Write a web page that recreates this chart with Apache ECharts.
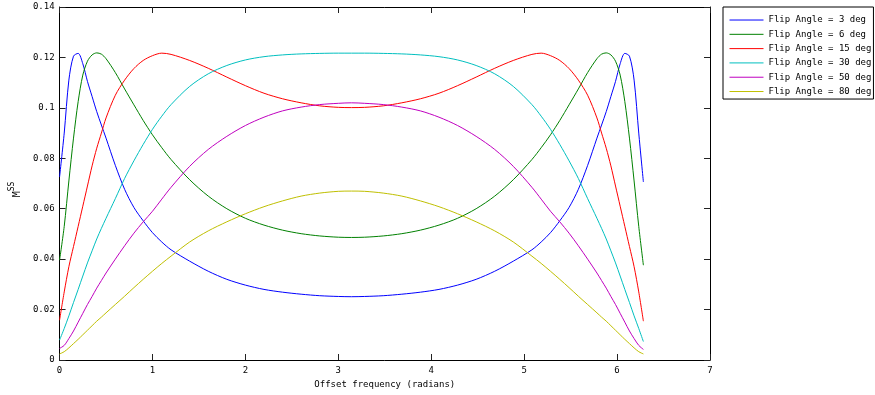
<!DOCTYPE html>
<html>
<head>
<meta charset="utf-8">
<script src="https://cdn.jsdelivr.net/npm/echarts@6/dist/echarts.min.js"></script>
<style>
  html, body { margin: 0; padding: 0; background: #ffffff; }
  #chart { width: 875px; height: 395px; }
</style>
</head>
<body>
<div id="chart"></div>
<script>
// Off-resonance phase per TR (radians)
const offsetRad = [
  0, 0.05, 0.1, 0.15, 0.2, 0.25, 0.3, 0.35, 0.4, 0.45, 0.5, 0.6, 0.7, 0.8, 0.9, 1.0, 1.1,
  1.2, 1.4, 1.6, 1.8, 2.0, 2.2, 2.4, 2.6, 2.8, 3.0, 3.1416,
  3.2832, 3.4832, 3.6832, 3.8832, 4.0832, 4.2832, 4.4832, 4.6832, 4.8832, 5.0832,
  5.1832, 5.2832, 5.3832, 5.4832, 5.5832, 5.6832, 5.7832, 5.8332, 5.8832, 5.9332, 5.9832,
  6.0332, 6.0832, 6.1332, 6.1832, 6.2332, 6.2832
];

const flipAngles = [3, 6, 15, 30, 50, 80];

// Steady-state magnetization for each flip angle
const mss3 = [
  0.0726, 0.0900, 0.1110, 0.1205, 0.1216, 0.1175, 0.1105, 0.1045, 0.0985, 0.0932, 0.0880, 0.0772, 0.0677, 0.0605, 0.0552, 0.0505, 0.0468,
  0.0437, 0.0392, 0.0352, 0.0320, 0.0297, 0.0280, 0.0269, 0.0261, 0.0255, 0.0252, 0.0251,
  0.0252, 0.0255, 0.0261, 0.0269, 0.0280, 0.0297, 0.0320, 0.0352, 0.0392, 0.0437,
  0.0468, 0.0505, 0.0552, 0.0605, 0.0677, 0.0772, 0.0880, 0.0932, 0.0985, 0.1045, 0.1105,
  0.1175, 0.1216, 0.1205, 0.1110, 0.0900, 0.0706
];
const mss6 = [
  0.0396, 0.0530, 0.0710, 0.0880, 0.1025, 0.1130, 0.1185, 0.1210, 0.1218, 0.1213, 0.1195, 0.1140, 0.1075, 0.1012, 0.0950, 0.0893, 0.0842,
  0.0795, 0.0715, 0.0650, 0.0600, 0.0562, 0.0535, 0.0515, 0.0501, 0.0492, 0.0487, 0.0486,
  0.0487, 0.0492, 0.0501, 0.0515, 0.0535, 0.0562, 0.0600, 0.0650, 0.0715, 0.0795,
  0.0842, 0.0893, 0.0950, 0.1012, 0.1075, 0.1140, 0.1195, 0.1213, 0.1218, 0.1210, 0.1185,
  0.1130, 0.1025, 0.0880, 0.0710, 0.0530, 0.0376
];
const mss15 = [
  0.0158, 0.0270, 0.0370, 0.0450, 0.0530, 0.0610, 0.0690, 0.0770, 0.0840, 0.0900, 0.0960, 0.1050, 0.1110, 0.1156, 0.1188, 0.1207, 0.1217,
  0.1212, 0.1188, 0.1157, 0.1122, 0.1088, 0.1058, 0.1036, 0.1020, 0.1008, 0.1002, 0.1001,
  0.1002, 0.1008, 0.1020, 0.1036, 0.1058, 0.1088, 0.1122, 0.1157, 0.1188, 0.1212,
  0.1217, 0.1207, 0.1188, 0.1156, 0.1110, 0.1050, 0.0960, 0.0900, 0.0840, 0.0770, 0.0690,
  0.0610, 0.0530, 0.0450, 0.0370, 0.0270, 0.0154
];
const mss30 = [
  0.0079, 0.0125, 0.0175, 0.0228, 0.0280, 0.0333, 0.0385, 0.0433, 0.0480, 0.0522, 0.0562, 0.0640, 0.0720, 0.0790, 0.0855, 0.0915, 0.0967,
  0.1013, 0.1085, 0.1135, 0.1168, 0.1190, 0.1203, 0.1210, 0.1214, 0.1216, 0.1217, 0.1217,
  0.1217, 0.1216, 0.1214, 0.1210, 0.1203, 0.1190, 0.1168, 0.1135, 0.1085, 0.1013,
  0.0967, 0.0915, 0.0855, 0.0790, 0.0720, 0.0640, 0.0562, 0.0522, 0.0480, 0.0433, 0.0385,
  0.0333, 0.0280, 0.0228, 0.0175, 0.0125, 0.0073
];
const mss50 = [
  0.0046, 0.0058, 0.0085, 0.0115, 0.0150, 0.0185, 0.0220, 0.0252, 0.0285, 0.0315, 0.0345, 0.0400, 0.0453, 0.0503, 0.0548, 0.0590, 0.0638,
  0.0685, 0.0768, 0.0835, 0.0887, 0.0930, 0.0963, 0.0988, 0.1003, 0.1013, 0.1018, 0.1020,
  0.1018, 0.1013, 0.1003, 0.0988, 0.0963, 0.0930, 0.0887, 0.0835, 0.0768, 0.0685,
  0.0638, 0.0590, 0.0548, 0.0503, 0.0453, 0.0400, 0.0345, 0.0315, 0.0285, 0.0252, 0.0220,
  0.0185, 0.0150, 0.0115, 0.0085, 0.0058, 0.0042
];
const mss80 = [
  0.0024, 0.0033, 0.0048, 0.0065, 0.0082, 0.0100, 0.0118, 0.0136, 0.0154, 0.0170, 0.0187, 0.0220, 0.0253, 0.0287, 0.0320, 0.0352, 0.0383,
  0.0412, 0.0468, 0.0512, 0.0548, 0.0580, 0.0608, 0.0631, 0.0650, 0.0662, 0.0669, 0.0670,
  0.0669, 0.0662, 0.0650, 0.0631, 0.0608, 0.0580, 0.0548, 0.0512, 0.0468, 0.0412,
  0.0383, 0.0352, 0.0320, 0.0287, 0.0253, 0.0220, 0.0187, 0.0170, 0.0154, 0.0136, 0.0118,
  0.0100, 0.0082, 0.0065, 0.0048, 0.0033, 0.0024
];

const profiles = [mss3, mss6, mss15, mss30, mss50, mss80];
const lineColors = ['#0000ff', '#008000', '#ff0000', '#00bfbf', '#bf00bf', '#bfbf00'];

const FONT = 'DejaVu Sans Mono';
const chart = echarts.init(document.getElementById('chart'), null, { renderer: 'canvas' });

const series = profiles.map((vals, i) => ({
  name: 'Flip Angle = ' + flipAngles[i] + ' deg',
  type: 'line',
  data: offsetRad.map((x, k) => [x, vals[k]]),
  symbol: 'none',
  smooth: 0.3,
  clip: true,
  color: lineColors[i],
  lineStyle: { width: 1, color: lineColors[i] },
  emphasis: { disabled: true }
}));

const tickStyle = { show: true, inside: true, length: 6, lineStyle: { color: '#222', width: 1 } };
const lineAxis = { show: true, onZero: false, lineStyle: { color: '#000', width: 1 } };

chart.setOption({
  animation: false,
  backgroundColor: '#ffffff',
  grid: { left: 57, right: 165, top: 7, bottom: 35, show: false },
  legend: {
    orient: 'vertical',
    left: 723,
    top: 7,
    padding: [7.3, 2, 1.8, 6],
    itemWidth: 34,
    itemHeight: 14.3,
    itemGap: 2.86,
    borderColor: '#000',
    borderWidth: 1,
    backgroundColor: '#fff',
    itemStyle: { opacity: 0 },
    lineStyle: { width: 1 },
    textStyle: { fontFamily: FONT, fontSize: 9, color: '#000' },
    data: series.map(s => s.name)
  },
  xAxis: [
    {
      type: 'value', min: 0, max: 7, interval: 1, position: 'bottom',
      axisLine: lineAxis, axisTick: tickStyle, splitLine: { show: false },
      axisLabel: { fontFamily: FONT, fontSize: 9, color: '#000', margin: 6 },
      name: 'Offset frequency (radians)', nameLocation: 'middle', nameGap: 19,
      nameTextStyle: { fontFamily: FONT, fontSize: 9, color: '#000' }
    },
    {
      type: 'value', min: 0, max: 7, interval: 1, position: 'top',
      axisLine: lineAxis, axisTick: tickStyle, splitLine: { show: false },
      axisLabel: { show: false }
    }
  ],
  yAxis: [
    {
      type: 'value', min: 0, max: 0.14, interval: 0.02, position: 'left',
      axisLine: lineAxis, axisTick: tickStyle, splitLine: { show: false },
      axisLabel: {
        fontFamily: FONT, fontSize: 9, color: '#000', margin: 5,
        formatter: v => String(parseFloat(v.toFixed(2)))
      },
      name: '{m|M}{s|SS}', nameLocation: 'middle', nameGap: 32, nameRotate: 90,
      nameTextStyle: {
        padding: [0, 12, 0, 0],
        rich: {
          m: { fontFamily: FONT, fontSize: 10, color: '#000', lineHeight: 14, verticalAlign: 'bottom' },
          s: { fontFamily: FONT, fontSize: 8, color: '#000', lineHeight: 14, verticalAlign: 'top' }
        }
      }
    },
    {
      type: 'value', min: 0, max: 0.14, interval: 0.02, position: 'right',
      axisLine: lineAxis, axisTick: tickStyle, splitLine: { show: false },
      axisLabel: { show: false }
    }
  ],
  series: series
});
</script>
</body>
</html>
